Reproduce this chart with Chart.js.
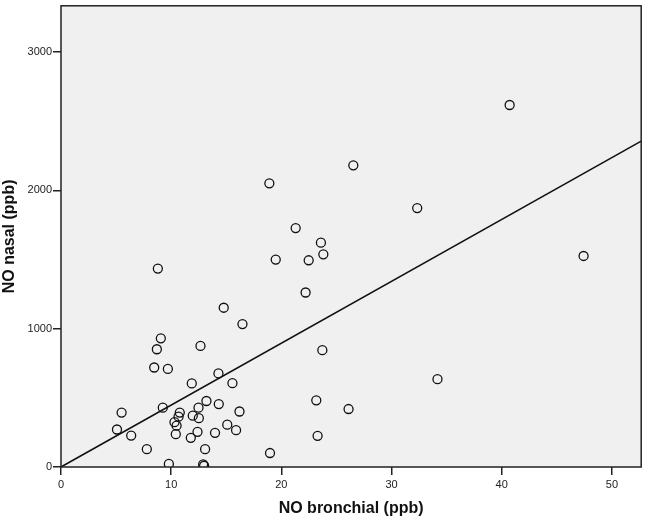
<!DOCTYPE html>
<html>
<head>
<meta charset="utf-8">
<script src="https://cdn.jsdelivr.net/npm/chart.js@4.4.1/dist/chart.umd.min.js"></script>
<style>
  html, body { margin: 0; padding: 0; background: #ffffff; }
  #wrap { width: 647px; height: 520px; }
</style>
</head>
<body>
<div id="wrap"><canvas id="chart" width="647" height="520"></canvas></div>
<script>
// NO bronchial (x) vs NO nasal (y)
const bronchial = [40.72, 26.53, 18.91, 32.33, 21.30, 23.59, 23.81, 19.49, 22.48, 22.20,
  47.43, 8.79, 14.77, 16.47, 9.06, 8.70, 12.66, 23.72, 8.46, 9.70,
  34.17, 14.29, 11.87, 15.56, 5.50, 9.24, 10.78, 10.67, 13.20, 12.48,
  14.32, 11.96, 12.51, 16.20, 23.17, 26.10, 5.08, 6.37, 10.30, 10.49,
  10.42, 12.39, 13.98, 15.09, 15.89, 11.78, 7.79, 13.08, 23.29, 18.97,
  9.79, 12.90, 12.99];
const nasal = [2616, 2180, 2050, 1871, 1727, 1621, 1537, 1499, 1494, 1261,
  1525, 1434, 1151, 1033, 930, 851, 875, 844, 719, 709,
  635, 676, 604, 606, 393, 429, 393, 364, 477, 429,
  455, 371, 353, 401, 482, 419, 271, 227, 324, 299,
  237, 254, 247, 306, 266, 211, 129, 129, 225, 101,
  22, 19, 9];

// fit line ends
const fitX = [0, 52.66];
const fitY = [0, 2355];

const xTicks = [0, 10, 20, 30, 40, 50];
const yTicks = [0, 1000, 2000, 3000];

const points = bronchial.map((b, i) => ({ x: b, y: nasal[i] }));
const fitLine = fitX.map((x, i) => ({ x: x, y: fitY[i] }));

// grey plot area and frame
const plotFrame = {
  id: 'plotFrame',
  beforeDraw(chart) {
    const a = chart.chartArea;
    const ctx = chart.ctx;
    ctx.save();
    ctx.fillStyle = '#f0f0f0';
    ctx.fillRect(a.left, a.top, a.right - a.left, a.bottom - a.top);
    ctx.restore();
  },
  afterDraw(chart) {
    const a = chart.chartArea;
    const ctx = chart.ctx;
    ctx.save();
    ctx.strokeStyle = '#222222';
    ctx.lineWidth = 1.5;
    ctx.strokeRect(a.left, a.top, a.right - a.left, a.bottom - a.top);
    ctx.restore();
  }
};

new Chart(document.getElementById('chart').getContext('2d'), {
  type: 'scatter',
  data: {
    datasets: [
      {
        data: fitLine,
        showLine: true,
        borderColor: '#111111',
        borderWidth: 1.6,
        pointRadius: 0,
        fill: false
      },
      {
        data: points,
        pointStyle: 'circle',
        pointRadius: 4.5,
        borderWidth: 1.3,
        borderColor: '#111111',
        backgroundColor: 'rgba(0,0,0,0)'
      }
    ]
  },
  options: {
    responsive: false,
    animation: false,
    layout: { padding: { top: 3, right: 5, left: 0, bottom: 0 } },
    plugins: {
      legend: { display: false },
      tooltip: { enabled: false }
    },
    scales: {
      x: {
        type: 'linear',
        min: 0,
        max: 52.66,
        afterBuildTicks: (s) => { s.ticks = xTicks.map(v => ({ value: v })); },
        afterFit: (s) => { s.height = 53; s.paddingLeft = 0; s.paddingRight = 0; },
        grid: { drawOnChartArea: false, drawTicks: true, tickLength: 8, color: '#222222', lineWidth: 1.5 },
        border: { display: false },
        ticks: {
          color: '#222222', padding: 3, maxRotation: 0,
          font: { family: 'Liberation Sans', size: 11 },
          callback: (v) => String(v)
        },
        title: {
          display: true,
          text: 'NO bronchial (ppb)',
          color: '#111111',
          padding: { top: 0, bottom: 2 },
          font: { family: 'Liberation Sans', size: 16, weight: 'bold' }
        }
      },
      y: {
        type: 'linear',
        min: 0,
        max: 3333,
        afterBuildTicks: (s) => { s.ticks = yTicks.map(v => ({ value: v })); },
        afterFit: (s) => { s.width = 61; s.paddingTop = 0; s.paddingBottom = 0; },
        grid: { drawOnChartArea: false, drawTicks: true, tickLength: 8, color: '#222222', lineWidth: 1.5 },
        border: { display: false },
        ticks: {
          color: '#222222', padding: 1,
          font: { family: 'Liberation Sans', size: 11 },
          callback: (v) => String(v)
        },
        title: {
          display: true,
          text: 'NO nasal (ppb)',
          color: '#111111',
          padding: { top: 0, bottom: 0 },
          font: { family: 'Liberation Sans', size: 16, weight: 'bold' }
        }
      }
    }
  },
  plugins: [plotFrame]
});
</script>
</body>
</html>
